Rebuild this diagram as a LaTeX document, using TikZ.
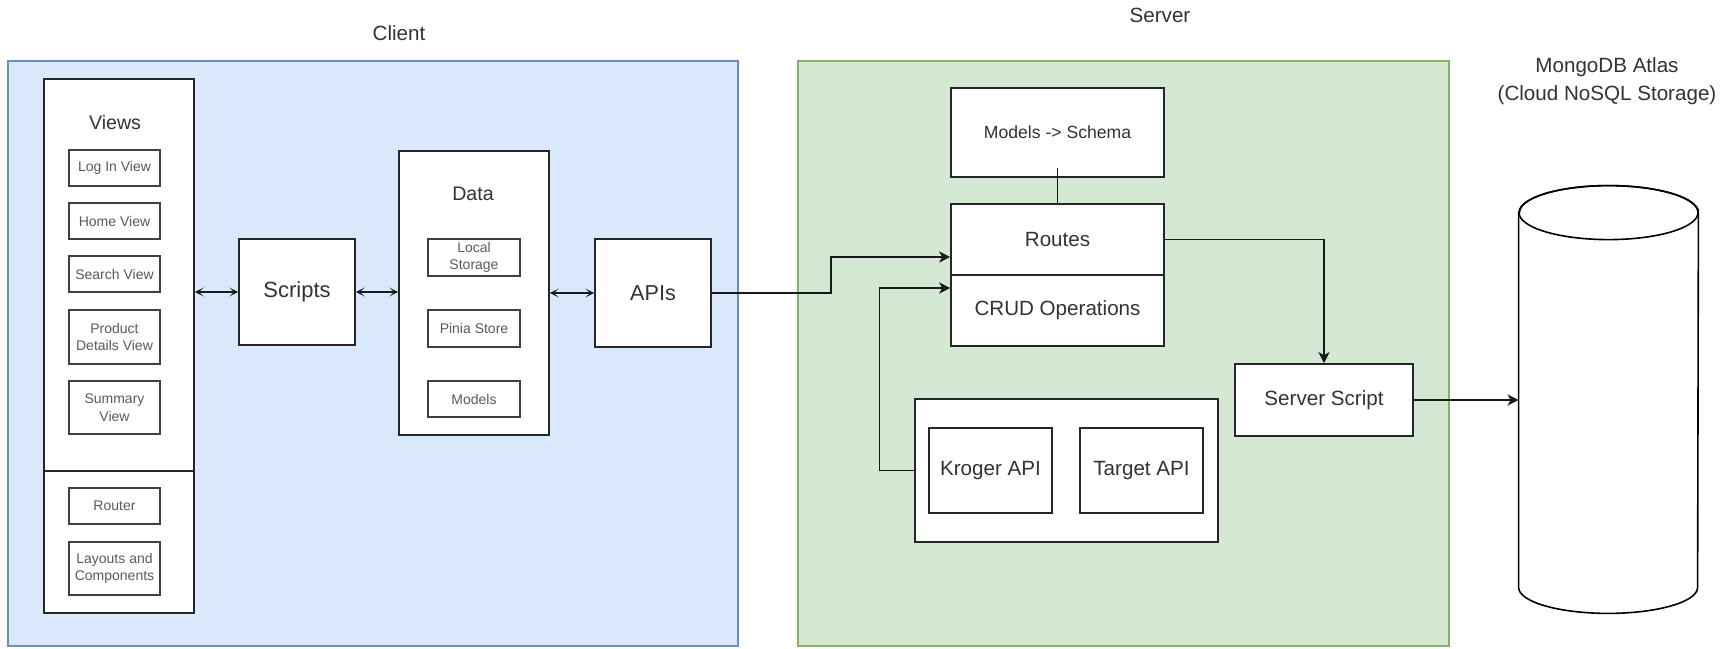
\documentclass[tikz,border=0pt]{standalone}
\usepackage{fontspec}
\setmainfont{Liberation Sans}
\usetikzlibrary{arrows.meta}
\definecolor{clientfill}{HTML}{DAE8FC}
\definecolor{clientdraw}{HTML}{6C8EBF}
\definecolor{serverfill}{HTML}{D5E8D4}
\definecolor{serverdraw}{HTML}{82B366}
\definecolor{txt}{HTML}{333333}
\definecolor{smalltxt}{HTML}{5A5A5A}
\begin{document}
\begin{tikzpicture}[x=0.5pt,y=-0.5pt,
  container/.style={line width=0.6pt, inner sep=0pt},
  box/.style={draw=black!85, line width=0.8pt, fill=white, inner sep=0pt, align=center, text=txt, font=\fontsize{10.3}{12}\selectfont},
  smallbox/.style={draw=black!75, line width=0.9pt, fill=white, inner sep=0pt, align=center, text=smalltxt, font=\fontsize{7}{8.7}\selectfont, minimum width=45.5pt},
  title/.style={text=txt, font=\fontsize{10.3}{14}\selectfont, align=center, inner sep=0pt},
  conn/.style={line width=0.95pt, draw=black!90},
  arr/.style={conn, -{Stealth[length=5.5pt,width=5.5pt,inset=1.5pt]}},
  dbl/.style={conn, {Stealth[length=4.5pt,width=4.5pt,inset=2.5pt]}-{Stealth[length=4.5pt,width=4.5pt,inset=2.5pt]}},
]
\useasboundingbox (0,0) rectangle (1734,648);
\fill[white] (0,0) rectangle (1734,648);

% containers
\node[container, draw=clientdraw, fill=clientfill, minimum width=365pt, minimum height=292.5pt] (client) at (373,353.5) {};
\node[container, draw=serverdraw, fill=serverfill, minimum width=325.5pt, minimum height=292.5pt] (server) at (1123.5,353.5) {};
\node[title] (clientlbl) at (399,33) {Client};
\node[title] (serverlbl) at (1160,15) {Server};
\node[title] (dblbl) at (1607,81) {MongoDB Atlas\\(Cloud NoSQL Storage)};

% views
\node[box, minimum width=75pt, minimum height=267pt] (views) at (119,346) {};
\coordinate (vdiv) at (0,471);
\draw[line width=0.8pt, draw=black!85] (views.west |- vdiv) -- (views.east |- vdiv);
\node[title, font=\fontsize{9.8}{11}\selectfont] (viewslbl) at (115,122) {Views};
\node[smallbox, minimum height=18pt] (login) at (114.5,168) {Log In View};
\node[smallbox, minimum height=18pt] (home) at (114.5,221) {Home View};
\node[smallbox, minimum height=18pt] (search) at (114.5,274) {Search View};
\node[smallbox, minimum height=27pt] (product) at (114.5,337) {Product\\Details View};
\node[smallbox, minimum height=26.5pt] (summary) at (114.5,407.5) {Summary\\View};
\node[smallbox, minimum height=18pt] (router) at (114.5,506) {Router};
\node[smallbox, minimum height=26.5pt] (layouts) at (114.5,568.5) {Layouts and\\Components};

% scripts
\node[box, minimum width=58pt, minimum height=53pt, font=\fontsize{11}{13}\selectfont] (scripts) at (297,292) {Scripts};

% data
\node[box, minimum width=75pt, minimum height=142pt] (data) at (474,293) {};
\node[title, font=\fontsize{9.8}{11}\selectfont] (datalbl) at (473,194) {Data};
\node[smallbox, minimum width=46pt, minimum height=18.5pt] (local) at (474,257.5) {Local\\Storage};
\node[smallbox, minimum width=46pt, minimum height=18.5pt] (pinia) at (474,328.5) {Pinia Store};
\node[smallbox, minimum width=46pt, minimum height=18pt] (models) at (474,399) {Models};

% apis
\node[box, minimum width=58pt, minimum height=54pt, font=\fontsize{10.8}{13}\selectfont] (apis) at (653,293) {APIs};

\draw[dbl] (views.east |- scripts.west) -- (scripts.west);
\draw[dbl] (scripts.east) -- (scripts.east -| data.west);
\draw[dbl] (data.east |- apis.west) -- (apis.west);

% server side
\node[box, minimum width=106.5pt, minimum height=44.5pt, font=\fontsize{8.8}{11}\selectfont] (schema) at (1057.5,132.5) {Models -> Schema};
\node[box, minimum width=106.5pt, minimum height=35.5pt] (routes) at (1057.5,239.5) {Routes};
\node[box, minimum width=106.5pt, minimum height=35.5pt] (crud) at (1057.5,310.5) {CRUD Operations};
\node[box, minimum width=89pt, minimum height=36pt] (sscript) at (1324,400) {Server Script};
\node[box, minimum width=151.5pt, minimum height=71.5pt] (apigroup) at (1066.5,470.5) {};
\node[box, minimum width=61.5pt, minimum height=42.5pt] (kroger) at (990.5,470.5) {Kroger API};
\node[box, minimum width=61.5pt, minimum height=42.5pt] (target) at (1141.5,470.5) {Target API};

% database cylinder
\node[inner sep=0pt, minimum width=89.5pt, minimum height=187pt] (db) at (1608.5,400) {};
\draw[line width=0.8pt, fill=white] (db.north west) -- (db.south west)
  arc[start angle=180, end angle=360, x radius=44.75pt, y radius=13pt]
  -- (db.north east)
  arc[start angle=0, end angle=180, x radius=44.75pt, y radius=13.5pt] -- cycle;
\draw[line width=0.8pt] (db.north) ellipse[x radius=44.75pt, y radius=13.5pt];

% connectors
\draw[conn] ([yshift=5pt]schema.south) -- (routes.north);
\draw[arr] (apis.east) -- (apis.east -| 830.7,0) |- ([yshift=-8.75pt]routes.west);
\draw[arr] (apigroup.west) -- (apigroup.west -| 879.5,0) |- ([yshift=11.25pt]crud.west);
\draw[arr] (routes.east) -| (sscript.north);
\draw[arr] (sscript.east) -- (db.west);
\end{tikzpicture}
\end{document}
